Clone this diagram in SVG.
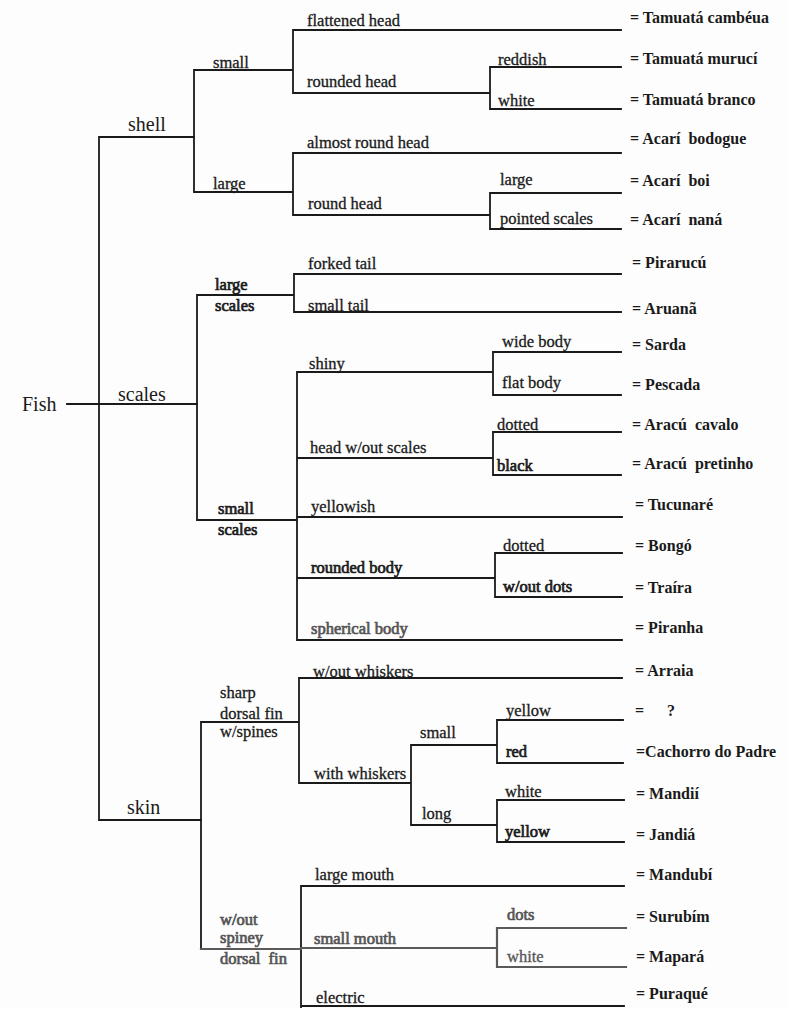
<svg xmlns="http://www.w3.org/2000/svg" width="788" height="1009" viewBox="0 0 788 1009">
<style>
.ln{fill:none;stroke:#1a1a1a;stroke-width:1.8;stroke-linecap:square}
.gl{fill:none;stroke:#5a5a5a;stroke-width:2.2;stroke-linecap:square}
.big{font-family:"Liberation Serif",serif;font-size:20px;fill:#1a1a1a}
.br{font-family:"Liberation Serif",serif;font-size:16.5px;fill:#1a1a1a;stroke:#1a1a1a;stroke-width:0.3}
.brb{font-family:"Liberation Serif",serif;font-size:16.5px;fill:#1a1a1a;stroke:#1a1a1a;stroke-width:0.7}
.gr{fill:#555;stroke:#555}
.lf{font-family:"Liberation Serif",serif;font-size:16px;font-weight:bold;fill:#1a1a1a}
.lf.gr{stroke:none}
</style>
<rect width="788" height="1009" fill="#fdfdfd"/>
<g id="connectors">
<path class="ln" d="M67,404H197M99,137V820M99,137H194M99,820H201"/>
<path class="ln" d="M194,70V192M194,70H293M194,192H293M293,30V93M293,30H621M293,93H490M490,67V109M490,67H621M490,109H621M293,153V215M293,153H621M293,215H490M490,193V229M490,193H621M490,229H621"/>
<path class="ln" d="M197,295V520M197,295H294M294,274V312M294,274H621M294,312H621M197,520H297M297,372V640M297,372H493M493,352V395M493,352H621M493,395H621M297,458H493M493,432V475M493,432H621M493,475H621M297,517H622M297,578H495M495,553V597M495,553H622M495,597H622M297,640H622"/>
<path class="ln" d="M201,722V949M201,722H299M299,678V783M299,678H622M299,783H411M411,745V825M411,745H497M497,720V763M497,720H623M497,763H623M411,825H497M497,800V842M497,800H624M497,842H624M301,886V1007M301,886H624M301,1006H624"/>
<path class="gl" d="M201,949H301M301,948H497M497,928V967M497,928H626M497,967H626"/>
</g>
<g id="node-fish"><text class="big" x="22" y="411">Fish</text></g>
<g id="node-shell"><text class="big" x="128" y="131">shell</text></g>
<g id="node-scales"><text class="big" x="118" y="401">scales</text></g>
<g id="node-skin"><text class="big" x="127" y="814">skin</text></g>
<g id="node-shell-small"><text class="br" x="213" y="68">small</text></g>
<g id="node-shell-large"><text class="br" x="213" y="189">large</text></g>
<g id="node-flattened-head"><text class="br" x="307" y="26">flattened head</text></g>
<g id="node-rounded-head"><text class="br" x="307" y="87">rounded head</text></g>
<g id="node-reddish"><text class="br" x="498" y="65">reddish</text></g>
<g id="node-white-1"><text class="br" x="498" y="106">white</text></g>
<g id="node-almost-round-head"><text class="br" x="307" y="148">almost round head</text></g>
<g id="node-round-head"><text class="br" x="308" y="209">round head</text></g>
<g id="node-acari-large"><text class="br" x="500" y="185">large</text></g>
<g id="node-pointed-scales"><text class="br" x="500" y="224">pointed scales</text></g>
<g id="node-large-scales"><text class="brb" x="215" y="290">large</text><text class="brb" x="215" y="311">scales</text></g>
<g id="node-forked-tail"><text class="br" x="308" y="269">forked tail</text></g>
<g id="node-small-tail"><text class="br" x="308" y="311">small tail</text></g>
<g id="node-small-scales"><text class="brb" x="218" y="514">small</text><text class="brb" x="218" y="535">scales</text></g>
<g id="node-shiny"><text class="br" x="309" y="369">shiny</text></g>
<g id="node-wide-body"><text class="br" x="502" y="347">wide body</text></g>
<g id="node-flat-body"><text class="br" x="502" y="388">flat body</text></g>
<g id="node-head-wout-scales"><text class="br" x="310" y="453">head w/out scales</text></g>
<g id="node-dotted-1"><text class="br" x="497" y="430">dotted</text></g>
<g id="node-black"><text class="brb" x="497" y="471">black</text></g>
<g id="node-yellowish"><text class="br" x="311" y="512">yellowish</text></g>
<g id="node-rounded-body"><text class="brb" x="311" y="573">rounded body</text></g>
<g id="node-dotted-2"><text class="br" x="503" y="551">dotted</text></g>
<g id="node-wout-dots"><text class="brb" x="503" y="592">w/out dots</text></g>
<g id="node-spherical-body"><text class="brb gr" x="311" y="634">spherical body</text></g>
<g id="node-sharp-dorsal-fin"><text class="br" x="220" y="698">sharp</text><text class="br" x="220" y="719">dorsal fin</text><text class="br" x="220" y="737">w/spines</text></g>
<g id="node-wout-whiskers"><text class="br" x="313" y="677">w/out whiskers</text></g>
<g id="node-with-whiskers"><text class="br" x="314" y="779">with whiskers</text></g>
<g id="node-whiskers-small"><text class="br" x="420" y="738">small</text></g>
<g id="node-whiskers-long"><text class="br" x="422" y="819">long</text></g>
<g id="node-yellow-1"><text class="br" x="506" y="716">yellow</text></g>
<g id="node-red"><text class="brb" x="506" y="757">red</text></g>
<g id="node-white-2"><text class="br" x="505" y="797">white</text></g>
<g id="node-yellow-2"><text class="brb" x="505" y="837">yellow</text></g>
<g id="node-wout-spiney"><text class="brb gr" x="220" y="925">w/out</text><text class="brb gr" x="220" y="943">spiney</text><text class="brb gr" x="220" y="964" xml:space="preserve">dorsal  fin</text></g>
<g id="node-large-mouth"><text class="br" x="315" y="880">large mouth</text></g>
<g id="node-small-mouth"><text class="brb gr" x="314" y="944">small mouth</text></g>
<g id="node-dots"><text class="brb gr" x="507" y="920">dots</text></g>
<g id="node-white-3"><text class="br gr" x="507" y="962">white</text></g>
<g id="node-electric"><text class="br" x="316" y="1003">electric</text></g>
<g id="leaves">
<g id="leaf-tamuata-cambeua"><text class="lf" x="630" y="23">= Tamuatá cambéua</text></g>
<g id="leaf-tamuata-muruci"><text class="lf gr" x="630" y="64">= Tamuatá murucí</text></g>
<g id="leaf-tamuata-branco"><text class="lf gr" x="630" y="105">= Tamuatá branco</text></g>
<g id="leaf-acari-bodogue"><text class="lf" x="630" y="144" xml:space="preserve">= Acarí  bodogue</text></g>
<g id="leaf-acari-boi"><text class="lf" x="630" y="186" xml:space="preserve">= Acarí  boi</text></g>
<g id="leaf-acari-nana"><text class="lf" x="630" y="225" xml:space="preserve">= Acarí  naná</text></g>
<g id="leaf-pirarucu"><text class="lf" x="632" y="268">= Pirarucú</text></g>
<g id="leaf-aruana"><text class="lf" x="632" y="314">= Aruanã</text></g>
<g id="leaf-sarda"><text class="lf" x="632" y="350">= Sarda</text></g>
<g id="leaf-pescada"><text class="lf" x="632" y="390">= Pescada</text></g>
<g id="leaf-aracu-cavalo"><text class="lf" x="632" y="430" xml:space="preserve">= Aracú  cavalo</text></g>
<g id="leaf-aracu-pretinho"><text class="lf" x="632" y="469" xml:space="preserve">= Aracú  pretinho</text></g>
<g id="leaf-tucunare"><text class="lf" x="635" y="510">= Tucunaré</text></g>
<g id="leaf-bongo"><text class="lf" x="635" y="551">= Bongó</text></g>
<g id="leaf-traira"><text class="lf" x="635" y="593">= Traíra</text></g>
<g id="leaf-piranha"><text class="lf gr" x="635" y="633">= Piranha</text></g>
<g id="leaf-arraia"><text class="lf" x="635" y="676">= Arraia</text></g>
<g id="leaf-unknown"><text class="lf" x="635" y="716">=<tspan x="667">?</tspan></text></g>
<g id="leaf-cachorro-do-padre"><text class="lf" x="636" y="757">=Cachorro do Padre</text></g>
<g id="leaf-mandii"><text class="lf" x="636" y="799">= Mandií</text></g>
<g id="leaf-jandia"><text class="lf" x="636" y="840">= Jandiá</text></g>
<g id="leaf-mandubi"><text class="lf" x="636" y="880">= Mandubí</text></g>
<g id="leaf-surubim"><text class="lf gr" x="636" y="922">= Surubím</text></g>
<g id="leaf-mapara"><text class="lf gr" x="636" y="962">= Mapará</text></g>
<g id="leaf-puraque"><text class="lf" x="636" y="999">= Puraqué</text></g>
</g>
</svg>
